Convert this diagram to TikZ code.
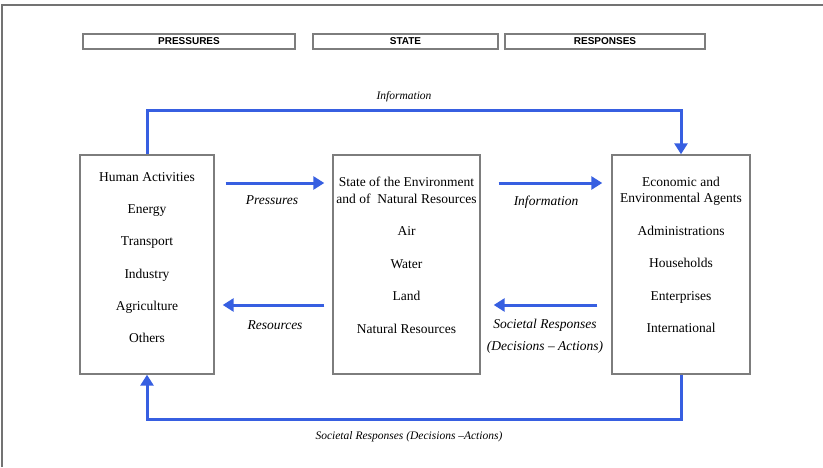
\documentclass[tikz,border=0pt]{standalone}
\usepackage{fontspec}
\setmainfont{Liberation Serif}
\setsansfont{Liberation Sans}
\usetikzlibrary{arrows.meta, positioning}
\definecolor{flowblue}{RGB}{55,95,225}
\definecolor{boxgray}{RGB}{125,125,125}
\definecolor{framegray}{RGB}{115,115,115}

\begin{document}
\begin{tikzpicture}[x=1pt, y=-1pt,
    box/.style={draw=boxgray, line width=1.4pt, minimum height=219pt, inner sep=0pt},
    head/.style={draw=boxgray, line width=1.1pt, minimum height=15pt, inner sep=0pt,
      font=\sffamily\bfseries\fontsize{10}{11}\selectfont},
    flow/.style={draw=flowblue, line width=3pt, -{Triangle[length=11pt,width=13pt]}},
    lbl/.style={inner sep=0pt, font=\itshape\fontsize{13.5}{22}\selectfont, align=center},
    txt/.style={align=center, anchor=north, inner sep=0pt, font=\fontsize{13.5}{16.5}\selectfont}]
  \useasboundingbox (0,0) rectangle (823,467);

  % frame
  \draw[framegray, line width=1.5pt] (2,467) -- (2,5) -- (823,5);

  % header boxes
  \node[head, minimum width=212pt] (hpres) at (189,41.5) {PRESSURES};
  \node[head, minimum width=185pt] (hstate) at (405.5,41.5) {STATE};
  \node[head, minimum width=200pt] (hresp) at (605,41.5) {RESPONSES};

  % main boxes
  \node[box, minimum width=134pt] (human) at (147,264.5) {};
  \node[box, minimum width=147pt] (state) at (406.5,264.5) {};
  \node[box, minimum width=138pt] (agents) at (681,264.5) {};

  % box contents
  \node[txt, below=18pt of human.north] (humantxt)
    {Human Activities\\[15.7pt]Energy\\[15.7pt]Transport\\[15.7pt]Industry\\[15.7pt]Agriculture\\[15.7pt]Others};
  \node[txt, below=22.5pt of state.north] (statetxt)
    {State of the Environment\\and of~ Natural Resources\\[16pt]Air\\[16pt]Water\\[16pt]Land\\[16pt]Natural Resources};
  \node[txt, below=22.5pt of agents.north] (agentstxt)
    {Economic and\\Environmental Agents\\[16pt]Administrations\\[16pt]Households\\[16pt]Enterprises\\[16pt]International};

  % horizontal flows
  \draw[flow, shorten <=11pt, shorten >=8pt] ([yshift=81.5pt]human.east) -- ([yshift=81.5pt]state.west);
  \draw[flow, shorten <=18pt, shorten >=9pt] ([yshift=81.5pt]state.east) -- ([yshift=81.5pt]agents.west);
  \draw[flow, shorten <=8pt, shorten >=8pt] ([yshift=-40.5pt]state.west) -- ([yshift=-40.5pt]human.east);
  \draw[flow, shorten <=14pt, shorten >=13pt] ([yshift=-40.5pt]agents.west) -- ([yshift=-40.5pt]state.east);

  % loops over the top and the bottom
  \coordinate (toprow) at (415,110);
  \coordinate (botrow) at (415,419);
  \draw[flow] (human.north) |- (toprow) -| (agents.north);
  \draw[flow] (agents.south) |- (botrow) -| (human.south);

  % labels
  \node[lbl] (lpres) at (272,200) {Pressures};
  \node[lbl] (linfo) at (546,202) {Information};
  \node[lbl] (lres) at (275,325) {Resources};
  \node[lbl] (lsoc) at (545,336) {Societal Responses\\(Decisions -- Actions)};
  \node[lbl, font=\itshape\fontsize{11.5}{12}\selectfont] (ltop) at (404,97) {Information};
  \node[lbl, font=\itshape\fontsize{11.5}{12}\selectfont] (lbot) at (409,437) {Societal Responses (Decisions --Actions)};
\end{tikzpicture}
\end{document}
